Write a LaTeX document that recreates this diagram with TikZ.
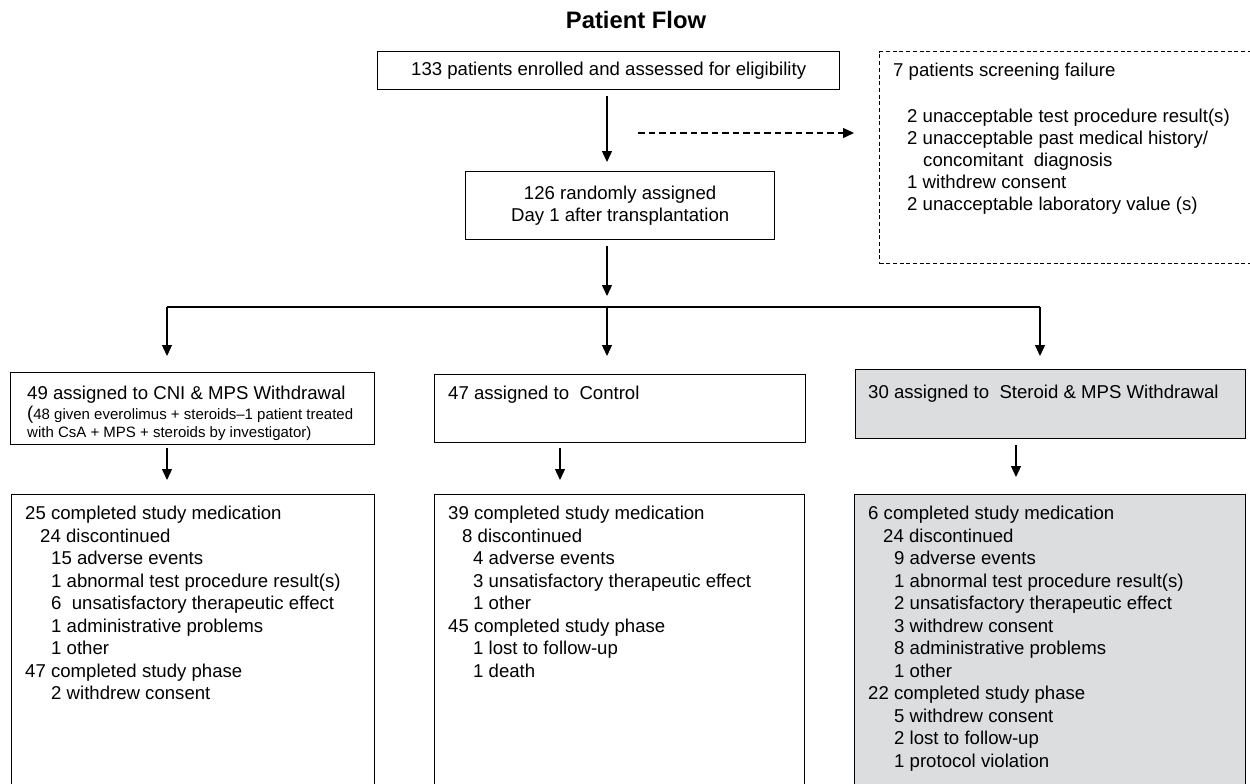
\documentclass[tikz,border=0pt]{standalone}
\usepackage{fontspec}
\setmainfont{Liberation Sans}
\usetikzlibrary{arrows.meta}
\definecolor{boxgray}{RGB}{220,221,223}
\newcommand\fmain{\fontsize{18.6}{22.5}\selectfont}
\newcommand\fsmall{\fontsize{15}{18}\selectfont}
\begin{document}
\begin{tikzpicture}[x=1pt,y=-1pt,
  frame/.style={draw, line width=1.3pt, inner sep=0pt, anchor=north west},
  txt/.style={inner sep=0pt, anchor=base west, font=\fmain},
  arr/.style={line width=1.3pt, -{Triangle[length=11pt,width=10pt]}},
  ln/.style={line width=1.3pt}]
\clip (0,0) rectangle (1250,784);
% title
\node[font=\bfseries\fontsize{23.8}{28}\selectfont, inner sep=0pt] (title) at (636,20) {Patient Flow};
% top boxes
\node[frame, minimum width=462pt, minimum height=38pt, font=\fmain] (enr) at (377,51) {133 patients enrolled and assessed for eligibility};
\node[frame, line width=1.1pt, dash pattern=on 4pt off 2.7pt, minimum width=385pt, minimum height=212pt] (fail) at (879,51) {};
\node[txt] (f0) at (893,76.5) {7 patients screening failure};
\node[txt] (f1) at (907,122.5) {2 unacceptable test procedure result(s)};
\node[txt] (f2) at (907,144.5) {2 unacceptable past medical history/};
\node[txt] (f3) at (923,166.5) {concomitant~ diagnosis};
\node[txt] (f4) at (907,188.5) {1 withdrew consent};
\node[txt] (f5) at (907,210.5) {2 unacceptable laboratory value (s)};
\node[frame, minimum width=309pt, minimum height=68pt, align=center, font=\fmain] (rnd) at (465,171) {126 randomly assigned\\Day 1 after transplantation};
% arm boxes
\node[frame, minimum width=364pt, minimum height=72pt] (cni) at (10,372) {};
\node[frame, minimum width=371pt, minimum height=68pt] (ctl) at (434,374) {};
\node[frame, fill=boxgray, minimum width=390pt, minimum height=69pt] (ster) at (855,369) {};
\node[txt] (c1) at (27,399.5) {49 assigned to CNI \& MPS Withdrawal};
\node[txt] (c2) at (27,419.5) {(\fsmall 48 given everolimus + steroids–1 patient treated};
\node[txt] (c3) at (27,437.5) {\fsmall with CsA + MPS + steroids by investigator)};
\node[txt] (t1) at (448,399) {47 assigned to~ Control};
\node[txt] (s1) at (868,398.5) {30 assigned to~ Steroid \& MPS Withdrawal};
% result boxes
\node[frame, minimum width=363pt, minimum height=300pt] (cnires) at (11,494) {};
\node[frame, minimum width=370pt, minimum height=300pt] (ctlres) at (434,494) {};
\node[frame, fill=boxgray, minimum width=391pt, minimum height=300pt] (sterres) at (854,494) {};
\foreach \ind/\t [count=\i] in {0/25 completed study medication, 15/24 discontinued, 26/15 adverse events, 26/1 abnormal test procedure result(s), 26/6~ unsatisfactory therapeutic effect, 26/1 administrative problems, 26/1 other, 0/47 completed study phase, 26/2 withdrew consent}
  \node[txt] (a\i) at ({25+\ind},{519.5+22.5*(\i-1)}) {\t};
\foreach \ind/\t [count=\i] in {0/39 completed study medication, 14/8 discontinued, 25/4 adverse events, 25/3 unsatisfactory therapeutic effect, 25/1 other, 0/45 completed study phase, 25/1 lost to follow-up, 25/1 death}
  \node[txt] (b\i) at ({448+\ind},{519.5+22.5*(\i-1)}) {\t};
\foreach \ind/\t [count=\i] in {0/6 completed study medication, 15/24 discontinued, 26/9 adverse events, 26/1 abnormal test procedure result(s), 26/2 unsatisfactory therapeutic effect, 26/3 withdrew consent, 26/8 administrative problems, 26/1 other, 0/22 completed study phase, 26/5 withdrew consent, 26/2 lost to follow-up, 26/1 protocol violation}
  \node[txt] (d\i) at ({868+\ind},{519.5+22.5*(\i-1)}) {\t};
% connectors
\coordinate (bar) at (607,307);
\coordinate (barL) at (167,307);
\coordinate (barR) at (1040,307);
\coordinate (ds) at (638,133);
\coordinate (k1) at (167,450);
\coordinate (k2) at (560,450);
\coordinate (k3) at (1016,450);
\draw[arr, shorten <=6pt, shorten >=9pt] (enr.south -| bar) -- (rnd.north -| bar);
\draw[arr, dash pattern=on 6.5pt off 4pt, shorten >=25pt] (ds) -- (ds -| fail.west);
\draw[arr, shorten <=6pt, shorten >=11pt] (rnd.south -| bar) -- (bar);
\draw[ln] (barL) -- (barR);
\draw[arr, shorten >=16pt] (barL) -- (barL |- cni.north);
\draw[arr, shorten >=18pt] (bar) -- (bar |- ctl.north);
\draw[arr, shorten >=13pt] (barR) -- (barR |- ster.north);
\draw[arr, shorten <=3pt, shorten >=14pt] (cni.south -| k1) -- (cnires.north -| k1);
\draw[arr, shorten <=5pt, shorten >=14pt] (ctl.south -| k2) -- (ctlres.north -| k2);
\draw[arr, shorten <=6pt, shorten >=17pt] (ster.south -| k3) -- (sterres.north -| k3);
\end{tikzpicture}
\end{document}
